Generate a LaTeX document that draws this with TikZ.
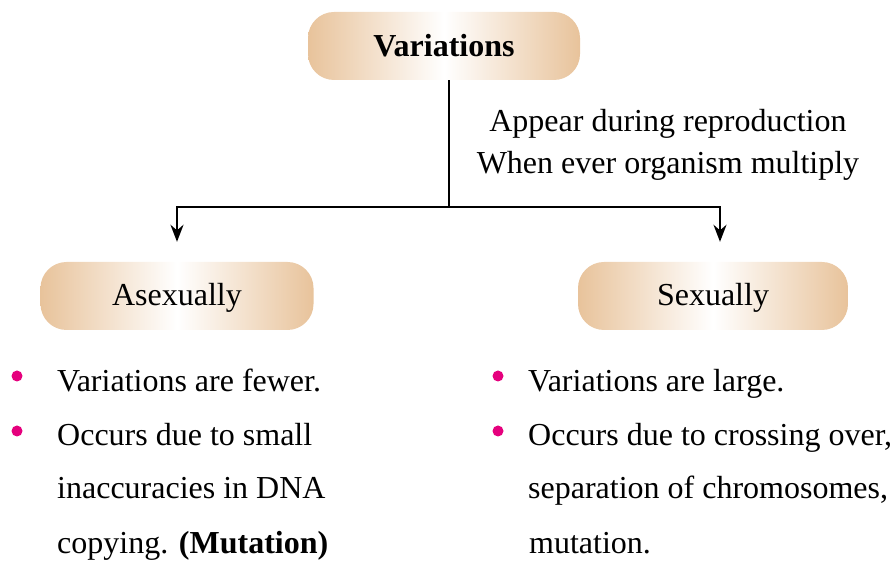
\documentclass[tikz,border=0pt]{standalone}
\usepackage{fontspec}
\setmainfont{Liberation Serif}
\usepackage{tikz}
\usetikzlibrary{arrows.meta,positioning,calc}

\definecolor{boxtan}{HTML}{E8C39B}
\definecolor{dotpink}{HTML}{E5007D}

\tikzset{
  tanbox/.style={rounded corners=26pt, left color=boxtan, right color=boxtan,
    middle color=white, minimum width=272pt, minimum height=68pt},
  branch/.style={line width=2.2pt},
  listline/.style={anchor=base west, inner sep=0pt}
}

\begin{document}
\begin{tikzpicture}[x=1pt, y=1pt, >={Stealth[length=17pt,width=13pt]},
    every node/.style={font=\fontsize{32}{38}\selectfont}]
  \useasboundingbox (0,0) rectangle (892,565);

  % Boxes
  \node[tanbox] (var) at (444,519) {\textbf{Variations}};
  \node[tanbox, minimum width=273pt, text height=22pt, text depth=3pt] (asex) at (177,269) {Asexually};
  \node[tanbox, minimum width=270pt, text height=22pt, text depth=3pt] (sex) at (713,269) {Sexually};

  % Branching
  \coordinate (split) at (449,358);
  \draw[branch] (var.south -| split) -- (split);
  \draw[branch, ->, shorten >=20pt] (split) -| (asex.north);
  \draw[branch, ->, shorten >=20pt] (split) -| ($(sex.north)+(7,0)$);

  \node (note1) at (668,441) {Appear during reproduction};
  \node (note2) at (668,399) {When ever organism multiply};

  % Left list
  \fill[dotpink] (17,189) circle (5.5pt);
  \fill[dotpink] (17,134) circle (5.5pt);
  \node[listline] (a1) at (57,173) {Variations are fewer.};
  \node[listline] (a2) at (57,119) {Occurs due to small};
  \node[listline] (a3) at (57,66) {inaccuracies in DNA};
  \node[listline] (a4) at (57,11) {copying. \textbf{(Mutation)}};

  % Right list
  \fill[dotpink] (498,189) circle (5.5pt);
  \fill[dotpink] (498,134) circle (5.5pt);
  \node[listline] (b1) at (528,173) {Variations are large.};
  \node[listline] (b2) at (528,119) {Occurs due to crossing over,};
  \node[listline] (b3) at (528,66) {separation of chromosomes,};
  \node[listline] (b4) at (529,11) {mutation.};
\end{tikzpicture}
\end{document}
